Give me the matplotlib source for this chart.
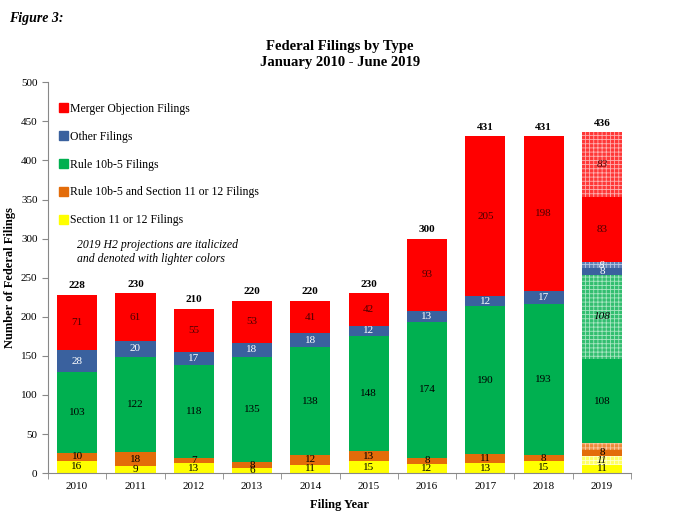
import matplotlib.pyplot as plt
import numpy as np
from matplotlib.patches import Patch

plt.rcParams['font.family'] = ['Liberation Serif', 'DejaVu Serif']
plt.rcParams['hatch.linewidth'] = 0.6

years = ['2010', '2011', '2012', '2013', '2014', '2015', '2016', '2017', '2018', '2019']
sec11 = [16, 9, 13, 6, 11, 15, 12, 13, 15, 11]
rule_sec = [10, 18, 7, 8, 12, 13, 8, 11, 8, 8]
rule10b5 = [103, 122, 118, 135, 138, 148, 174, 190, 193, 108]
other = [28, 20, 17, 18, 18, 12, 13, 12, 17, 8]
merger = [71, 61, 55, 53, 41, 42, 93, 205, 198, 83]
totals = [228, 230, 210, 220, 220, 230, 300, 431, 431, 436]
# 2019 H2 projections (last bar only)
proj = {'sec11': 11, 'rule_sec': 8, 'rule10b5': 108, 'other': 8, 'merger': 83}

names = ['Section 11 or 12 Filings', 'Rule 10b-5 and Section 11 or 12 Filings',
         'Rule 10b-5 Filings', 'Other Filings', 'Merger Objection Filings']
keys = ['sec11', 'rule_sec', 'rule10b5', 'other', 'merger']
series = [sec11, rule_sec, rule10b5, other, merger]
colors = ['#FFFF00', '#E36C0A', '#00B050', '#3A619E', '#FF0000']
light = ['#FFFF66', '#EC8A3A', '#33BE70', '#5F7FB4', '#FF3838']
hatchc = ['#FFFFCC', '#F8C8A0', '#A8E6C2', '#B8C8E2', '#FFB0B0']
txtcol = ['black', 'black', 'black', 'white', '#4a0000']

fig = plt.figure(figsize=(6.75, 5.24), dpi=100)
ax = fig.add_axes([0.071, 0.097, 0.864, 0.746])

x = np.arange(len(years))
w = 0.69
bottom = np.zeros(len(years))
for vals, c, lc, hc, tc, k in zip(series, colors, light, hatchc, txtcol, keys):
    vals = np.array(vals, dtype=float)
    ax.bar(x, vals, w, bottom=bottom, color=c, edgecolor='none')
    for i in range(len(years)):
        ax.text(x[i], bottom[i] + vals[i] / 2, str(int(vals[i])), ha='center', va='center',
                fontsize=8, color=tc)
    bottom = bottom + vals
    if k in proj:
        pv = proj[k]
        ax.bar(x[-1], pv, w, bottom=bottom[-1], facecolor=lc, edgecolor=hc,
               hatch='++++', linewidth=0)
        if k != 'rule_sec':
            ax.text(x[-1], bottom[-1] + pv / 2, str(pv), ha='center', va='center',
                    fontsize=8, color=tc, style='italic')
        bottom[-1] += pv

for i, t in enumerate(totals):
    ax.text(x[i], t + 6, str(t), ha='center', va='bottom', fontsize=8, fontweight='bold')

ax.set_ylim(0, 500)
ax.set_yticks(np.arange(0, 501, 50))
ax.set_xlim(-0.5, len(years) - 0.5)
ax.set_xticks(x)
ax.set_xticklabels(years)
ax.set_xticks(np.arange(-0.5, len(years), 1), minor=True)
ax.tick_params(axis='x', which='major', length=0, labelsize=8, pad=6)
ax.tick_params(axis='x', which='minor', length=4, color='#888888')
ax.tick_params(axis='y', labelsize=8, length=4, color='#888888')
for s in ['top', 'right']:
    ax.spines[s].set_visible(False)
for s in ['left', 'bottom']:
    ax.spines[s].set_color('#888888')

ax.set_xlabel('Filing Year', fontsize=9, fontweight='bold', labelpad=6)
ax.set_ylabel('Number of Federal Filings', fontsize=9, fontweight='bold')
ax.yaxis.set_label_coords(-0.055, 0.5)

handles = [Patch(color=colors[i]) for i in [4, 3, 2, 1, 0]]
labels = [names[i] for i in [4, 3, 2, 1, 0]]
ax.legend(handles, labels, loc='upper left', bbox_to_anchor=(0.0, 0.975), frameon=False,
          fontsize=8.5, labelspacing=1.35, handlelength=0.8, handleheight=0.8,
          handletextpad=0.2)
ax.text(0.05, 0.60, '2019 H2 projections are italicized\nand denoted with lighter colors',
        transform=ax.transAxes, fontsize=8.5, style='italic', va='top', linespacing=1.3)

fig.text(0.013, 0.965, 'Figure 3:', fontsize=10, style='italic', fontweight='bold', va='center')
fig.text(0.504, 0.912, 'Federal Filings by Type', fontsize=10.5, fontweight='bold', ha='center', va='center')
fig.text(0.504, 0.880, 'January 2010 - June 2019', fontsize=10.5, fontweight='bold', ha='center', va='center')

fig.savefig('out.png', dpi=100)
